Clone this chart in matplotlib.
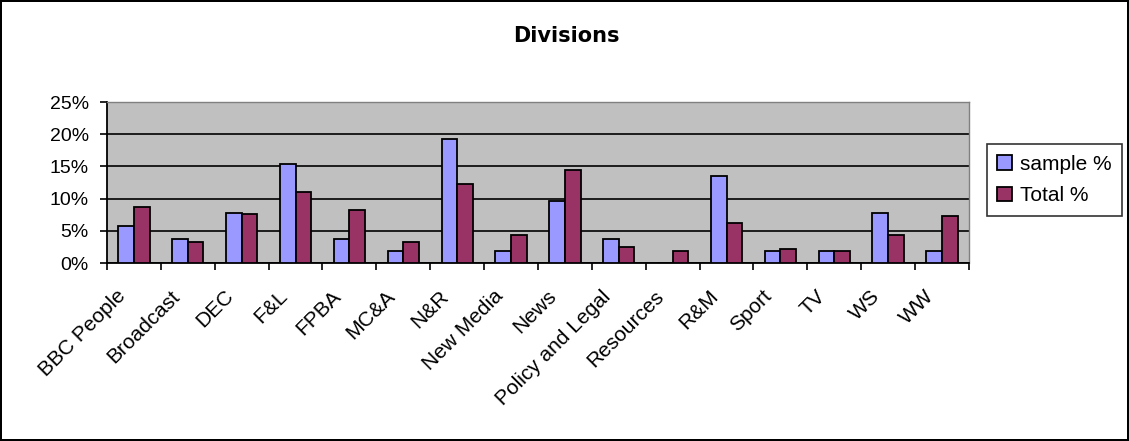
import numpy as np
import matplotlib
matplotlib.use("Agg")
import matplotlib.pyplot as plt
from matplotlib.ticker import FuncFormatter

plt.rcParams['font.family'] = ['Liberation Sans', 'DejaVu Sans']

divisions = ["BBC People", "Broadcast", "DEC", "F&L", "FPBA", "MC&A", "N&R",
             "New Media", "News", "Policy and Legal", "Resources", "R&M",
             "Sport", "TV", "WS", "WW"]
sample_pct = [5.8, 3.8, 7.7, 15.4, 3.8, 1.9, 19.2, 1.9, 9.6, 3.8, 0.0, 13.5,
              1.9, 1.9, 7.7, 1.9]
total_pct = [8.7, 3.3, 7.6, 11.0, 8.2, 3.3, 12.2, 4.4, 14.4, 2.5, 1.9, 6.2,
             2.2, 1.9, 4.4, 7.3]

fig = plt.figure(figsize=(11.29, 4.41), dpi=100)
fig.patch.set_edgecolor("black")
fig.patch.set_linewidth(1.5)
ax = fig.add_axes([0.0948, 0.4036, 0.7634, 0.365])

x = np.arange(len(divisions))
w = 0.29
ax.bar(x - w / 2, sample_pct, w, color="#9999FF", edgecolor="black",
       linewidth=1.3, label="sample %", zorder=3)
ax.bar(x + w / 2, total_pct, w, color="#993366", edgecolor="black",
       linewidth=1.3, label="Total %", zorder=3)

ax.set_facecolor("#C0C0C0")
ax.set_xlim(-0.5, len(divisions) - 0.5)
ax.set_ylim(0, 25)
ax.set_yticks([0, 5, 10, 15, 20, 25])
ax.yaxis.set_major_formatter(FuncFormatter(lambda v, p: f"{v:.0f}%"))
ax.yaxis.grid(True, color="black", linewidth=1.2, zorder=0)
ax.set_axisbelow(True)

# ticks at category boundaries, rotated labels placed under each category
ax.set_xticks(np.arange(len(divisions) + 1) - 0.5)
ax.set_xticklabels([])
for i, name in enumerate(divisions):
    ax.annotate(name, xy=(i, 0), xycoords=("data", "axes fraction"),
                xytext=(-13, -17), textcoords="offset points",
                rotation=45, ha="right", va="top", rotation_mode="anchor",
                fontsize=15)
ax.tick_params(axis="x", which="major", length=5, width=1.2, direction="out")
ax.tick_params(axis="y", length=5, width=1.2, direction="out", pad=8,
               labelsize=14)

for side in ["top", "right"]:
    ax.spines[side].set_color("#808080")
    ax.spines[side].set_linewidth(1)
for side in ["left", "bottom"]:
    ax.spines[side].set_linewidth(1.3)

fig.text(0.502, 0.918, "Divisions", ha="center", va="center",
         fontsize=15, fontweight="bold", family="DejaVu Sans")

leg = fig.legend(loc="upper left", bbox_to_anchor=(0.874, 0.673),
                 fontsize=15, frameon=True, fancybox=False,
                 handlelength=0.7, handleheight=0.7, handletextpad=0.4,
                 borderpad=0.5, labelspacing=0.6, borderaxespad=0)
leg.get_frame().set_edgecolor("black")
leg.get_frame().set_linewidth(1.2)

fig.savefig("out.png", dpi=100)
